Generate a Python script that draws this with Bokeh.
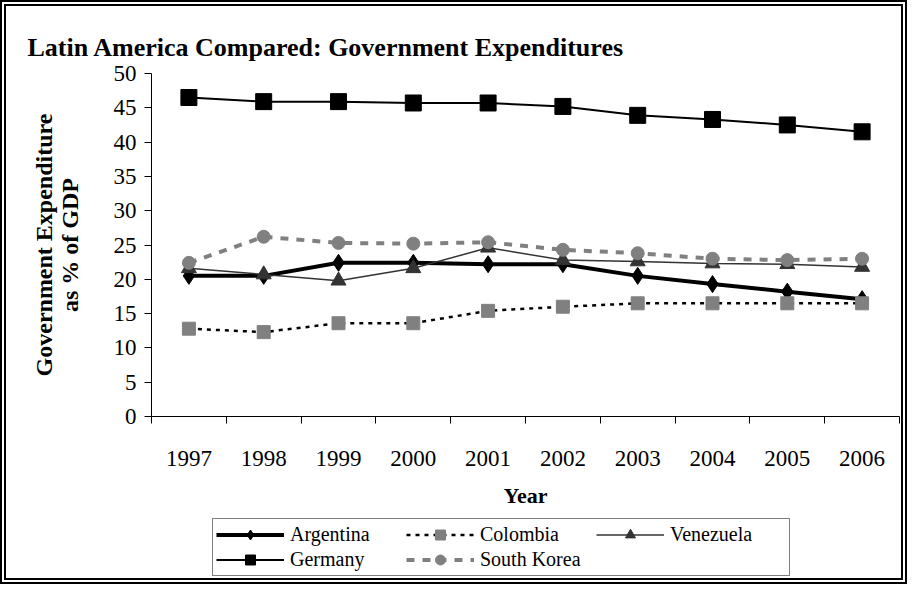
from bokeh.plotting import figure
from bokeh.layouts import column
from bokeh.models import Range1d, FixedTicker, Legend, LegendItem, InlineStyleSheet
from bokeh.embed import file_html
from bokeh.resources import INLINE

# ---- data ----
years = [1997, 1998, 1999, 2000, 2001, 2002, 2003, 2004, 2005, 2006]
year_labels = ["1997", "1998", "1999", "2000", "2001", "2002", "2003", "2004", "2005", "2006"]
y_ticks = [0, 5, 10, 15, 20, 25, 30, 35, 40, 45, 50]
argentina = [20.5, 20.5, 22.4, 22.4, 22.2, 22.2, 20.5, 19.3, 18.2, 17.1]
colombia = [12.8, 12.3, 13.6, 13.6, 15.4, 16.0, 16.5, 16.5, 16.5, 16.5]
venezuela = [21.6, 20.7, 19.8, 21.6, 24.6, 22.8, 22.6, 22.3, 22.2, 21.8]
germany = [46.5, 45.9, 45.9, 45.7, 45.7, 45.2, 43.9, 43.3, 42.5, 41.5]
south_korea = [22.4, 26.2, 25.3, 25.2, 25.4, 24.3, 23.8, 23.0, 22.8, 23.0]

SERIF = "Liberation Serif"
GRAY = "#808080"
DARK = "#333333"

# series styles (line + marker) shared by plot and legend
styles = {
    "Argentina": dict(line=dict(line_color="black", line_width=4),
                      marker=dict(marker="diamond", size=17, fill_color="black", line_color="black")),
    "Colombia": dict(line=dict(line_color="black", line_width=2.5, line_dash="4 5"),
                     marker=dict(marker="square", size=13, fill_color=GRAY, line_color=GRAY)),
    "Venezuela": dict(line=dict(line_color=DARK, line_width=1.5),
                      marker=dict(marker="triangle", size=15, fill_color=DARK, line_color=DARK)),
    "Germany": dict(line=dict(line_color="black", line_width=2),
                    marker=dict(marker="square", size=16, fill_color="black", line_color="black")),
    "South Korea": dict(line=dict(line_color=GRAY, line_width=4, line_dash="8 8"),
                        marker=dict(marker="circle", size=13, fill_color=GRAY, line_color=GRAY)),
}
series = [("Argentina", argentina), ("Colombia", colombia), ("Venezuela", venezuela),
          ("Germany", germany), ("South Korea", south_korea)]

p = figure(frame_width=748, frame_height=343,
           min_border_left=145, min_border_right=2,
           min_border_top=67, min_border_bottom=101,
           x_range=Range1d(years[0] - 0.5, years[-1] + 0.5),
           y_range=Range1d(y_ticks[0], y_ticks[-1]),
           output_backend="svg", toolbar_location=None,
           title="Latin America Compared: Government Expenditures")
p.outline_line_color = None
p.xgrid.visible = False
p.ygrid.visible = False
p.background_fill_color = "white"
p.border_fill_color = "white"

p.title.text_font = SERIF
p.title.text_font_size = "26px"
p.title.text_font_style = "bold"
p.title.text_color = "black"
p.title.align = "left"
p.title.offset = -124
p.title.standoff = 24

# y axis
ya = p.yaxis[0]
ya.ticker = FixedTicker(ticks=y_ticks)
ya.major_tick_out = 7
ya.major_tick_in = 0
ya.minor_tick_out = 0
ya.minor_tick_in = 0
ya.axis_line_color = "black"
ya.major_tick_line_color = "black"
ya.major_label_text_font = SERIF
ya.major_label_text_font_size = "23px"
ya.major_label_text_color = "black"
ya.major_label_standoff = 8
ya.axis_label = "Government Expenditure\nas % of GDP"
ya.axis_label_text_font = SERIF
ya.axis_label_text_font_size = "24px"
ya.axis_label_text_font_style = "bold"
ya.axis_label_text_color = "black"
ya.axis_label_text_line_height = 1.0
ya.axis_label_standoff = 28

# x axis
xa = p.xaxis[0]
edges = [y - 0.5 for y in years] + [years[-1] + 0.5]
xa.ticker = FixedTicker(ticks=years, minor_ticks=edges)
xa.major_label_overrides = dict(zip(years, year_labels))
xa.major_tick_out = 0
xa.major_tick_in = 0
xa.minor_tick_out = 7
xa.minor_tick_in = 0
xa.minor_tick_line_color = "black"
xa.axis_line_color = "black"
xa.major_label_text_font = SERIF
xa.major_label_text_font_size = "23px"
xa.major_label_text_color = "black"
xa.major_label_standoff = 27
xa.axis_label = "Year"
xa.axis_label_text_font = SERIF
xa.axis_label_text_font_size = "22px"
xa.axis_label_text_font_style = "bold"
xa.axis_label_text_color = "black"
xa.axis_label_standoff = 14

for name, vals in series:
    p.line(years, vals, **styles[name]["line"])
    p.scatter(years, vals, **styles[name]["marker"])

# legend strip: its own small figure; its sample renderers use the same data,
# which lies outside this strip's ranges, so only the legend glyphs show
lp = figure(width=895, height=61, min_border=0,
            x_range=Range1d(0, 1), y_range=Range1d(0, 1),
            x_axis_location=None, y_axis_location=None,
            output_backend="svg", toolbar_location=None)
lp.outline_line_color = None
lp.xgrid.visible = False
lp.ygrid.visible = False
lp.border_fill_color = "white"

items = []
for name, vals in series:
    lr = lp.line(years, vals, **styles[name]["line"])
    mr = lp.scatter(years, vals, **styles[name]["marker"])
    items.append(LegendItem(label=name, renderers=[lr, mr]))

legend = Legend(items=items, orientation="horizontal", ncols=3, location=(61, 2))
legend.label_text_font = "Times New Roman"
legend.label_text_font_style = "normal"
legend.label_text_font_size = "20px"
legend.label_text_color = "black"
legend.glyph_width = 68
legend.glyph_height = 25
legend.label_height = 20
legend.label_width = 116
legend.label_standoff = 6
legend.spacing = 0
legend.padding = 3
legend.margin = 0
legend.border_line_color = "black"
legend.border_line_width = 1
legend.background_fill_color = "white"
legend.background_fill_alpha = 1
lp.add_layout(legend)

layout = column(p, lp, spacing=0)
layout.stylesheets = [InlineStyleSheet(css=":host { border: 6px double #000; background: white; }")]

open("out.html", "w").write(file_html(layout, INLINE))
